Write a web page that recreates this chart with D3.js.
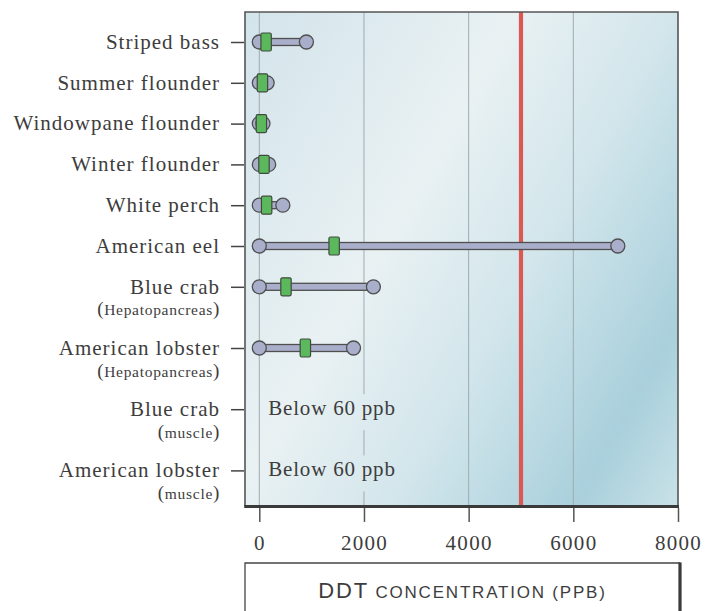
<!DOCTYPE html>
<html>
<head>
<meta charset="utf-8">
<script src="https://cdn.jsdelivr.net/npm/d3@7"></script>
<style>
  html, body { margin: 0; padding: 0; background: #ffffff; }
  svg { display: block; }
</style>
</head>
<body>
<div id="chart"></div>
<script>
// ---- data ----
const species = ["Striped bass", "Summer flounder", "Windowpane flounder", "Winter flounder", "White perch",
                 "American eel", "Blue crab", "American lobster", "Blue crab", "American lobster"];
const tissue = [null, null, null, null, null, null, "Hepatopancreas", "Hepatopancreas", "muscle", "muscle"];
const minValues = [0, 0, 0, 0, 0, 0, 0, 0, null, null];
const medianValues = [130, 60, 40, 90, 140, 1430, 510, 880, null, null];
const maxValues = [900, 150, 70, 180, 450, 6850, 2180, 1800, null, null];
const noteText = [null, null, null, null, null, null, null, null, "Below 60 ppb", "Below 60 ppb"];
const xTicks = [0, 2000, 4000, 6000, 8000];
const thresholdValue = 5000;
const axisTitleLead = "DDT";
const axisTitleRest = " concentration (ppb)";

// ---- layout ----
const W = 719, H = 611;
const plot = { left: 245, top: 12, right: 678, bottom: 506 };

const svg = d3.select("#chart").append("svg").attr("width", W).attr("height", H);
const defs = svg.append("defs");

// row slots: rows with a second label line take extra space
const slots = [];
species.forEach((s, i) => {
  slots.push(i === 0 ? 0 : slots[i - 1] + (tissue[i - 1] ? 1.5 : 1));
});
const rows = species.map((s, i) => ({
  name: s, tissue: tissue[i], min: minValues[i], med: medianValues[i], max: maxValues[i],
  note: noteText[i], slot: slots[i]
}));

const x = d3.scaleLinear().domain([0, 8000]).range([259.3, 678]);
const y = d3.scaleLinear().domain([0, d3.max(slots)]).range([42, 470.4]);

// background gradient
const grad = defs.append("linearGradient").attr("id", "bg")
  .attr("gradientUnits", "userSpaceOnUse")
  .attr("x1", plot.left).attr("y1", plot.top)
  .attr("x2", plot.left + 618 * 0.868).attr("y2", plot.top + 618 * 0.497);
[[0, "#d3e4eb"], [0.38, "#e9f1f3"], [0.6, "#d3e6ec"], [0.86, "#a9d0dc"], [1, "#c8e1e7"]]
  .forEach(([o, c]) => grad.append("stop").attr("offset", o).attr("stop-color", c));

svg.append("rect")
  .attr("x", plot.left).attr("y", plot.top)
  .attr("width", plot.right - plot.left).attr("height", plot.bottom - plot.top)
  .attr("fill", "url(#bg)");

// grid lines
svg.append("g").selectAll("line")
  .data(xTicks.filter(t => t < 8000))
  .join("line")
  .attr("x1", d => x(d)).attr("x2", d => x(d))
  .attr("y1", plot.top).attr("y2", plot.bottom)
  .attr("stroke", "#9eacb0").attr("stroke-width", 1);

// threshold line
svg.append("line")
  .attr("x1", x(thresholdValue)).attr("x2", x(thresholdValue))
  .attr("y1", plot.top).attr("y2", plot.bottom)
  .attr("stroke", "#dc5852").attr("stroke-width", 4.2);

// notes ("Below 60 ppb") with gradient backing that hides grid
const serif = "'Liberation Serif', 'Times New Roman', serif";
const notes = svg.append("g").selectAll("g").data(rows.filter(r => r.note)).join("g");
notes.append("rect")
  .attr("x", x(0) + 6).attr("y", d => y(d.slot) - 15)
  .attr("width", 130).attr("height", 36)
  .attr("fill", "url(#bg)");
notes.append("text")
  .attr("x", x(0) + 9).attr("y", d => y(d.slot) + 6)
  .attr("font-family", serif).attr("font-size", 21).attr("letter-spacing", 0.8)
  .attr("fill", "#3d3d3d")
  .text(d => d.note);

// range bars
const lav = "#a9aecb", outline = "#4f4f4f";
const dataRows = rows.filter(r => r.min !== null);
const g = svg.append("g");
g.selectAll("rect.bar").data(dataRows).join("rect").attr("class", "bar")
  .attr("x", d => x(d.min)).attr("y", d => y(d.slot) - 3.5)
  .attr("width", d => x(d.max) - x(d.min)).attr("height", 7)
  .attr("fill", lav).attr("stroke", outline).attr("stroke-width", 1.3);
g.selectAll("circle.min").data(dataRows).join("circle").attr("class", "min")
  .attr("cx", d => x(d.min)).attr("cy", d => y(d.slot)).attr("r", 7)
  .attr("fill", lav).attr("stroke", outline).attr("stroke-width", 1.3);
g.selectAll("circle.max").data(dataRows).join("circle").attr("class", "max")
  .attr("cx", d => x(d.max)).attr("cy", d => y(d.slot)).attr("r", 7)
  .attr("fill", lav).attr("stroke", outline).attr("stroke-width", 1.3);
g.selectAll("rect.med").data(dataRows).join("rect").attr("class", "med")
  .attr("x", d => x(d.med) - 5.2).attr("y", d => y(d.slot) - 9)
  .attr("width", 10.4).attr("height", 18).attr("rx", 1.5)
  .attr("fill", "#5cb85c").attr("stroke", "#404a40").attr("stroke-width", 1.2);

// frame
svg.append("path")
  .attr("d", `M${plot.left},${plot.bottom}V${plot.top}H${plot.right}V${plot.bottom}`)
  .attr("fill", "none").attr("stroke", "#555").attr("stroke-width", 1.6);
svg.append("line")
  .attr("x1", plot.left - 0.8).attr("x2", plot.right + 1)
  .attr("y1", plot.bottom + 0.5).attr("y2", plot.bottom + 0.5)
  .attr("stroke", "#3a3a3a").attr("stroke-width", 3);

// x axis
const xAxis = svg.append("g").attr("transform", `translate(0,${plot.bottom + 2})`)
  .call(d3.axisBottom(x).tickValues(xTicks).tickSize(14).tickPadding(13).tickFormat(d3.format("d")));
xAxis.select(".domain").remove();
xAxis.selectAll(".tick line").attr("stroke", "#555").attr("stroke-width", 1.5);
xAxis.selectAll(".tick text")
  .attr("font-family", serif).attr("font-size", 21).attr("letter-spacing", 1.3)
  .attr("fill", "#3d3d3d");

// y axis
const yAxis = svg.append("g").attr("transform", `translate(${plot.left - 1},0)`)
  .call(d3.axisLeft(y).tickValues(slots).tickSize(13).tickPadding(11)
    .tickFormat((d, i) => species[i]));
yAxis.select(".domain").remove();
yAxis.selectAll(".tick line").attr("stroke", "#444").attr("stroke-width", 1.5);
yAxis.selectAll(".tick text")
  .attr("font-family", serif).attr("font-size", 21).attr("letter-spacing", 1)
  .attr("fill", "#3d3d3d").attr("dy", "0.3em");
yAxis.selectAll(".tick").each(function(d, i) {
  if (!tissue[i]) return;
  const t = d3.select(this).append("text")
    .attr("x", -24).attr("y", 28).attr("text-anchor", "end")
    .attr("font-family", serif).attr("fill", "#3d3d3d").attr("letter-spacing", 0.7);
  t.append("tspan").attr("font-size", 19).text("(");
  t.append("tspan").attr("font-size", 15.5).text(tissue[i]);
  t.append("tspan").attr("font-size", 19).text(")");
});

// axis title box
const box = { left: 245, top: 563, right: 680 };
svg.append("path")
  .attr("d", `M${box.left},${H + 2}V${box.top}H${box.right}`)
  .attr("fill", "none").attr("stroke", "#444").attr("stroke-width", 1.3);
svg.append("line")
  .attr("x1", box.right).attr("x2", box.right).attr("y1", box.top - 0.6).attr("y2", H + 2)
  .attr("stroke", "#3a3a3a").attr("stroke-width", 3.2);
const title = svg.append("text")
  .attr("x", (box.left + box.right) / 2).attr("y", 598).attr("text-anchor", "middle")
  .attr("font-family", "'Liberation Sans', Arial, sans-serif").attr("fill", "#3d3d3d")
  .attr("letter-spacing", 1.8);
title.append("tspan").attr("font-size", 22).text(axisTitleLead);
title.append("tspan").attr("font-size", 17).text(axisTitleRest.toUpperCase());
</script>
</body>
</html>
